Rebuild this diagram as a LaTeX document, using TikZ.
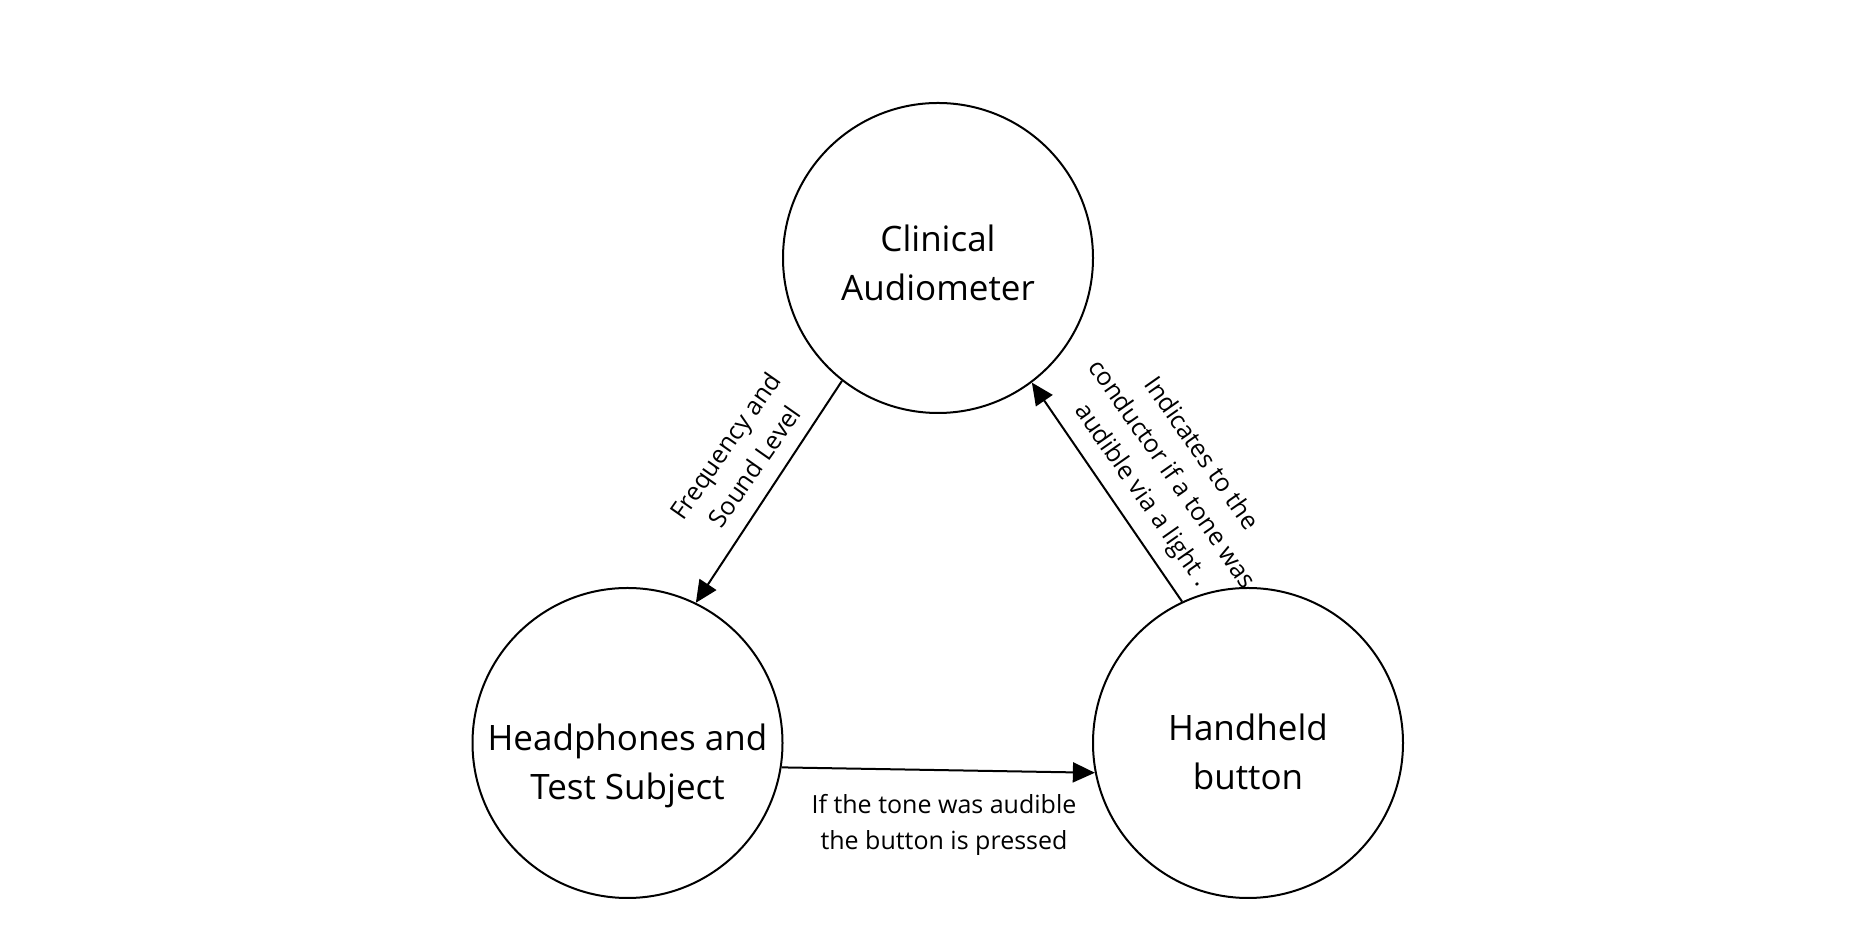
\documentclass[tikz,border=0pt]{standalone}
\usepackage{fontspec}
\setmainfont{Open Sans}
\usetikzlibrary{arrows.meta,backgrounds}

\begin{document}
\begin{tikzpicture}[x=0.5pt, y=0.5pt,
		unit/.style={circle, draw, line width=1pt, fill=white, minimum size=155pt, inner sep=0pt,
			align=center, font=\fontsize{17.5}{24.5}\selectfont},
		flow/.style={line width=1pt, -{Triangle[length=11pt, width=10pt]}},
		elabel/.style={align=center, inner sep=0pt, font=\fontsize{12.5}{18}\selectfont}]
		\path[use as bounding box] (0,0) rectangle (1859,930);
		% the three units
		\node[unit, text height=43pt] (audio) at (938,672) {Clinical\\Audiometer};
		\node[unit, text height=60.8pt] (subject) at (627.5,187) {Headphones and\\Test Subject};
		\node[unit, text height=46.5pt] (button) at (1248,187) {Handheld\\button};
		\begin{pgfonlayer}{background}
		\draw[flow] (audio.232.5) -- (subject.64.6);
		\node[elabel, rotate=55] (lfreq) at (739.5,474) {Frequency and\\Sound Level};
		\draw[flow] (subject.-9.5) -- (button.191);
		\node[elabel] (lpress) at (944,105) {If the tone was audible\\the button is pressed};
		\draw[flow] (button.115.4) -- (audio.307.5);
		\node[elabel, rotate=-55] (llight) at (1171,455) {Indicates to the\\conductor if a tone was\\audible via a light .};
		\end{pgfonlayer}
	\end{tikzpicture}
\end{document}
